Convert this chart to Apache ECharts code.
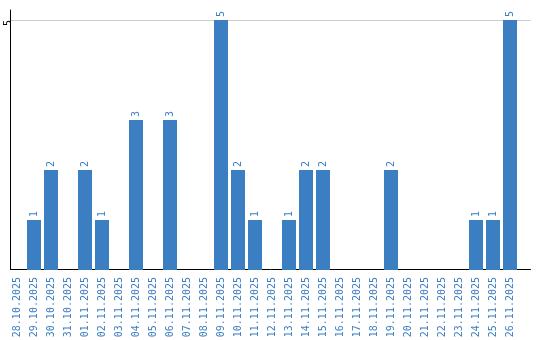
<!DOCTYPE html>
<html><head><meta charset="utf-8">
<script src="https://cdn.jsdelivr.net/npm/echarts@6/dist/echarts.min.js"></script>
<style>html,body{margin:0;padding:0;background:#fff}#c{width:540px;height:340px}</style>
</head><body><div id="c"></div>
<script>
const categories = ['28.10.2025','29.10.2025','30.10.2025','31.10.2025','01.11.2025','02.11.2025','03.11.2025','04.11.2025','05.11.2025','06.11.2025','07.11.2025','08.11.2025','09.11.2025','10.11.2025','11.11.2025','12.11.2025','13.11.2025','14.11.2025','15.11.2025','16.11.2025','17.11.2025','18.11.2025','19.11.2025','20.11.2025','21.11.2025','22.11.2025','23.11.2025','24.11.2025','25.11.2025','26.11.2025'];
const values = [0,1,2,0,2,1,0,3,0,3,0,0,5,2,1,0,1,2,2,0,0,0,2,0,0,0,0,1,1,5];
const yTicks = [5];

const font = 'DejaVu Sans Mono';
const blue = '#3b7ec2';
const chart = echarts.init(document.getElementById('c'));
chart.setOption({
  animation: false,
  grid: [
    {left: 8.5, right: 21.5, top: 20, bottom: 70, outerBoundsMode: 'none', containLabel: false},
    {left: 10.5, right: 9.5, top: 10, bottom: 70.5, outerBoundsMode: 'none', containLabel: false}
  ],
  xAxis: [
    {type: 'category', gridIndex: 0, data: categories,
     axisLine: {show: false}, axisTick: {show: false},
     axisLabel: {rotate: 90, interval: 0, margin: 7, color: blue, fontFamily: font, fontSize: 10}},
    {type: 'value', gridIndex: 1, min: 0, max: 1,
     axisLine: {show: true, lineStyle: {color: '#000', width: 1}}, axisTick: {show: false},
     axisLabel: {show: false}, splitLine: {show: false}}
  ],
  yAxis: [
    {type: 'value', gridIndex: 0, min: 0, max: 5, interval: 5,
     axisLine: {show: false}, axisTick: {show: false}, axisLabel: {show: false}, splitLine: {show: false}},
    {type: 'value', gridIndex: 1, min: 0, max: 5.2, interval: 5,
     axisLine: {show: true, lineStyle: {color: '#000', width: 1}}, axisTick: {show: false},
     axisLabel: {rotate: 90, margin: 2, color: '#000', fontFamily: font, fontSize: 10,
       verticalAlign: 'middle', padding: [0, 6, 0, 0],
       formatter: v => yTicks.includes(v) ? String(v) : ''},
     splitLine: {show: true, showMinLine: false, showMaxLine: false, lineStyle: {color: '#cccccc', width: 1}}}
  ],
  series: [{
    type: 'bar', xAxisIndex: 0, yAxisIndex: 0, data: values, barWidth: 14,
    itemStyle: {color: blue},
    label: {show: true, position: 'top', rotate: 90, align: 'left', verticalAlign: 'middle', distance: 3,
      color: blue, fontFamily: font, fontSize: 10,
      formatter: p => p.value > 0 ? String(p.value) : ''}
  }]
});
</script></body></html>
